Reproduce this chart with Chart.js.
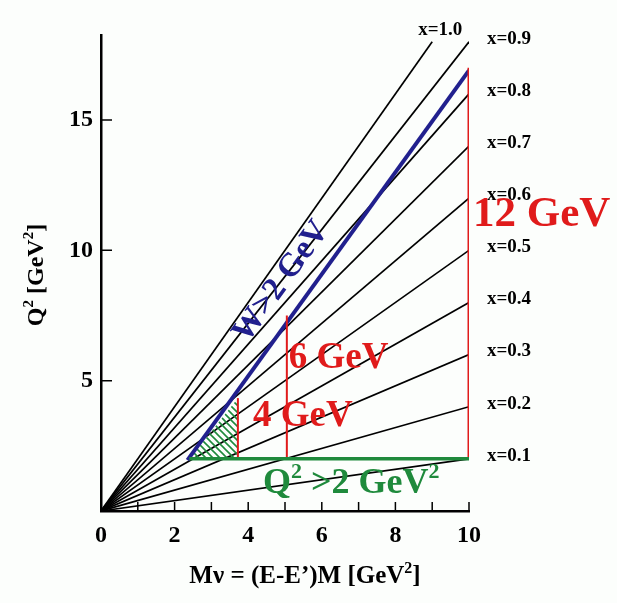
<!DOCTYPE html>
<html>
<head>
<meta charset="utf-8">
<script src="https://cdn.jsdelivr.net/npm/chart.js@4.4.1/dist/chart.umd.min.js"></script>
<style>
  html, body { margin: 0; padding: 0; background: #fcfefc; }
  #wrap { width: 617px; height: 603px; }
</style>
</head>
<body>
<div id="wrap"><canvas id="myChart"></canvas></div>
<script>
// Lignes x = const : Q2 = 2 x Mnu (extrémités)
const xLabels = ['x=0.1', 'x=0.2', 'x=0.3', 'x=0.4', 'x=0.5', 'x=0.6', 'x=0.7', 'x=0.8', 'x=0.9', 'x=1.0'];
const lineEndMnu = [10, 10, 10, 10, 10, 10, 10, 10, 10, 9];
const lineEndQ2 = [2, 4, 6, 8, 10, 12, 14, 16, 18, 18];

// W > 2 GeV
const wLineMnu = [2.35, 10];
const wLineQ2 = [1.95, 16.9];

// Q2 > 2 GeV2
const q2CutMnu = [2.4, 10];
const q2CutValue = 2;

// Energies de faisceau (traits verticaux rouges)
const beamLabels = ['4 GeV', '6 GeV', '12 GeV'];
const beamMnu = [3.72, 5.05, 10];
const beamTopQ2 = [4.33, 7.5, 17.0];

// Zone hachurée (4 GeV)
const hatchMnu = [2.4, 3.72];
const hatchQ2 = [2.0, 4.33];

const xTicks = [0, 1, 2, 3, 4, 5, 6, 7, 8, 9, 10];
const yTicks = [5, 10, 15];

const SERIF = "'Liberation Serif', 'DejaVu Serif', serif";
const RED = '#e01b1b';
const BLUE = '#21208e';
const GREEN = '#1f8a3c';

function hatchPattern() {
    const c = document.createElement('canvas');
    c.width = 7; c.height = 7;
    const g = c.getContext('2d');
    g.strokeStyle = GREEN;
    g.lineWidth = 1.6;
    g.beginPath();
    g.moveTo(-1, -1); g.lineTo(8, 8);
    g.moveTo(-1, 6); g.lineTo(1, 8);
    g.moveTo(6, -1); g.lineTo(8, 1);
    g.stroke();
    return g.createPattern(c, 'repeat');
}

// texte avec exposants : parts = [[texte, exposant?], ...]
function drawSupText(ctx, parts, x, y, size, align) {
    const big = 'bold ' + size + 'px ' + SERIF;
    const small = 'bold ' + Math.round(size * 0.62) + 'px ' + SERIF;
    let w = 0;
    parts.forEach(p => { ctx.font = p[1] ? small : big; w += ctx.measureText(p[0]).width; });
    let cx = align === 'center' ? x - w / 2 : x;
    ctx.textAlign = 'left';
    parts.forEach(p => {
        ctx.font = p[1] ? small : big;
        ctx.fillText(p[0], cx, p[1] ? y - size * 0.4 : y);
        cx += ctx.measureText(p[0]).width;
    });
}

const datasets = [];
xLabels.forEach((lab, i) => {
    datasets.push({
        label: lab,
        data: [{ x: 0, y: 0 }, { x: lineEndMnu[i], y: lineEndQ2[i] }],
        borderColor: '#000',
        borderWidth: 1.7,
        order: 10
    });
});
datasets.push({
    label: 'hatch',
    data: hatchMnu.map((m, i) => ({ x: m, y: hatchQ2[i] })),
    borderWidth: 0,
    borderColor: 'rgba(0,0,0,0)',
    backgroundColor: hatchPattern(),
    fill: { value: q2CutValue },
    order: 9
});
datasets.push({
    label: 'W>2 GeV',
    data: wLineMnu.map((m, i) => ({ x: m, y: wLineQ2[i] })),
    borderColor: BLUE,
    borderWidth: 4,
    order: 3
});
beamLabels.forEach((lab, i) => {
    datasets.push({
        label: lab,
        data: [{ x: beamMnu[i], y: q2CutValue }, { x: beamMnu[i], y: beamTopQ2[i] }],
        borderColor: RED,
        borderWidth: i === 2 ? 3 : 2,
        order: 2
    });
});
datasets.push({
    label: 'Q2>2',
    data: q2CutMnu.map(m => ({ x: m, y: q2CutValue })),
    borderColor: GREEN,
    borderWidth: 3.5,
    order: 1
});

// Graduations intérieures, textes et titres
const decorPlugin = {
    id: 'decor',
    afterDatasetsDraw(chart) {
        const ctx = chart.ctx;
        const xs = chart.scales.x, ys = chart.scales.y;
        const area = chart.chartArea;
        ctx.save();
        ctx.strokeStyle = '#000';
        ctx.lineWidth = 1.5;
        ctx.beginPath();
        xTicks.slice(1).forEach(v => {
            const px = xs.getPixelForValue(v);
            ctx.moveTo(px, area.bottom); ctx.lineTo(px, area.bottom - 9);
        });
        yTicks.forEach(v => {
            const py = ys.getPixelForValue(v);
            ctx.moveTo(area.left, py); ctx.lineTo(area.left + 11, py);
        });
        ctx.stroke();

        // étiquettes x=...
        ctx.fillStyle = '#000';
        ctx.font = 'bold 19px ' + SERIF;
        ctx.textBaseline = 'middle';
        xLabels.forEach((lab, i) => {
            if (lineEndMnu[i] < 10) {
                ctx.textAlign = 'center';
                ctx.fillText(lab, xs.getPixelForValue(lineEndMnu[i]) + 8, ys.getPixelForValue(lineEndQ2[i]) - 12);
            } else {
                ctx.textAlign = 'left';
                ctx.fillText(lab, area.right + 18, ys.getPixelForValue(lineEndQ2[i]) - 3);
            }
        });

        // énergies de faisceau
        ctx.fillStyle = RED;
        ctx.textAlign = 'left';
        ctx.textBaseline = 'alphabetic';
        ctx.font = 'bold 37px ' + SERIF;
        ctx.fillText(beamLabels[0], xs.getPixelForValue(4.13), ys.getPixelForValue(3.26));
        ctx.fillText(beamLabels[1], xs.getPixelForValue(beamMnu[1]) + 2, ys.getPixelForValue(5.5));
        ctx.font = 'bold 43px ' + SERIF;
        ctx.fillText(beamLabels[2], xs.getPixelForValue(beamMnu[2]) + 4, ys.getPixelForValue(10.95));

        // Q2 > 2 GeV2
        ctx.fillStyle = GREEN;
        drawSupText(ctx, [['Q', 0], ['2', 1], [' >2 GeV', 0], ['2', 1]],
            xs.getPixelForValue(4.4), ys.getPixelForValue(0.7), 36, 'left');

        // W > 2 GeV, le long de la ligne
        const p0x = xs.getPixelForValue(wLineMnu[0]), p0y = ys.getPixelForValue(wLineQ2[0]);
        const p1x = xs.getPixelForValue(wLineMnu[1]), p1y = ys.getPixelForValue(wLineQ2[1]);
        const ang = Math.atan2(p1y - p0y, p1x - p0x);
        ctx.fillStyle = BLUE;
        ctx.font = 'bold 33px ' + SERIF;
        ctx.textAlign = 'center';
        ctx.textBaseline = 'middle';
        ctx.translate(xs.getPixelForValue(4.9), ys.getPixelForValue(8.8));
        ctx.rotate(ang);
        ctx.fillText('W>2 GeV', 0, 0);
        ctx.restore();

        // titres des axes
        ctx.save();
        ctx.fillStyle = '#000';
        ctx.textBaseline = 'alphabetic';
        drawSupText(ctx, [['M\u03bd = (E-E\u2019)M [GeV', 0], ['2', 1], [']', 0]], 305, 583, 25, 'center');
        ctx.translate(43, 275);
        ctx.rotate(-Math.PI / 2);
        drawSupText(ctx, [['Q', 0], ['2', 1], [' [GeV', 0], ['2', 1], [']', 0]], 0, 0, 24, 'center');
        ctx.restore();
    }
};

const ctx = document.getElementById('myChart').getContext('2d');
new Chart(ctx, {
    type: 'scatter',
    data: { datasets: datasets },
    options: {
        responsive: true,
        maintainAspectRatio: false,
        animation: false,
        showLine: true,
        elements: { point: { radius: 0, hoverRadius: 0 }, line: { tension: 0 } },
        layout: { padding: { left: 0, right: 148, top: 35, bottom: 0 } },
        plugins: { legend: { display: false }, tooltip: { enabled: false } },
        scales: {
            x: {
                type: 'linear',
                min: 0, max: 10,
                afterFit: s => { s.height = 92; },
                afterBuildTicks: s => { s.ticks = xTicks.map(v => ({ value: v })); },
                grid: { display: false, drawTicks: false },
                border: { display: true, color: '#000', width: 2.5 },
                ticks: {
                    padding: 10,
                    color: '#000',
                    font: { family: SERIF, size: 24, weight: 'bold' },
                    maxRotation: 0,
                    autoSkip: false,
                    callback: v => (v % 2 === 0 ? String(v) : '')
                }
            },
            y: {
                type: 'linear',
                min: 0, max: 18.26,
                afterFit: s => { s.width = 101; },
                afterBuildTicks: s => { s.ticks = yTicks.map(v => ({ value: v })); },
                grid: { display: false, drawTicks: false },
                border: { display: true, color: '#000', width: 2.5 },
                ticks: {
                    padding: 8,
                    color: '#000',
                    font: { family: SERIF, size: 24, weight: 'bold' },
                    callback: v => String(v)
                }
            }
        }
    },
    plugins: [decorPlugin]
});
</script>
</body>
</html>
